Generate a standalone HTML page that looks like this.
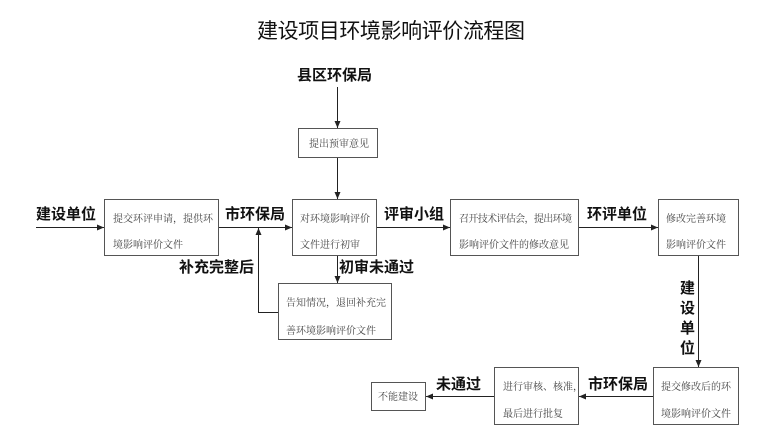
<!DOCTYPE html>
<html><head><meta charset="utf-8"><style>
html,body{margin:0;padding:0;background:#fff}
svg{display:block}
.t{font-family:"Liberation Serif","Noto Serif CJK SC",serif;font-size:10px;fill:#444}
.b{font-family:"Liberation Sans","Noto Sans CJK SC",sans-serif;font-size:15px;font-weight:bold;fill:#111}
</style></head><body>
<svg width="766" height="440" viewBox="0 0 766 440" xmlns="http://www.w3.org/2000/svg">
<defs><marker id="a" markerWidth="8" markerHeight="8" refX="7" refY="4" orient="auto" markerUnits="userSpaceOnUse"><path d="M0,1 L7,4 L0,7 z" fill="#222"/></marker></defs>
<text x="391" y="38" text-anchor="middle" font-family="Liberation Sans,Noto Sans CJK SC,sans-serif" font-size="21" fill="#111" textLength="268">建设项目环境影响评价流程图</text>
<g fill="none" stroke="#555" stroke-width="1">
<rect x="298.5" y="128.5" width="79" height="29"/>
<rect x="104.5" y="199.5" width="114" height="56"/>
<rect x="292.5" y="199.5" width="84" height="56"/>
<rect x="278.5" y="283.5" width="113" height="56"/>
<rect x="450.5" y="199.5" width="128" height="56"/>
<rect x="658.5" y="199.5" width="80" height="56"/>
<rect x="653.5" y="367.5" width="85" height="57"/>
<rect x="494.5" y="367.5" width="84" height="57"/>
<rect x="371.5" y="382.5" width="54" height="28"/>
</g>
<g stroke="#222" stroke-width="1" fill="none" marker-end="url(#a)">
<line x1="337.5" y1="87" x2="337.5" y2="128"/>
<line x1="337.5" y1="158" x2="337.5" y2="199"/>
<line x1="36" y1="227.5" x2="104" y2="227.5"/>
<line x1="219" y1="227.5" x2="292" y2="227.5"/>
<line x1="377" y1="227.5" x2="450" y2="227.5"/>
<line x1="579" y1="227.5" x2="658" y2="227.5"/>
<line x1="337.5" y1="256" x2="337.5" y2="283"/>
<polyline points="278,312.5 258.5,312.5 258.5,228"/>
<line x1="698.5" y1="256" x2="698.5" y2="367"/>
<line x1="653" y1="396.5" x2="579" y2="396.5"/>
<line x1="494" y1="396.5" x2="426" y2="396.5"/>
</g>
<text class="b" x="297" y="80">县区环保局</text>
<text class="t" x="309" y="147">提出预审意见</text>
<text class="b" x="36" y="219">建设单位</text>
<text class="b" x="225" y="219">市环保局</text>
<text class="b" x="384" y="219">评审小组</text>
<text class="b" x="587" y="219">环评单位</text>
<text class="b" x="179" y="272">补充完整后</text>
<text class="b" x="339" y="272">初审未通过</text>
<text class="t" x="113" y="222">提交环评申请，提供环</text>
<text class="t" x="113" y="248">境影响评价文件</text>
<text class="t" x="300" y="222">对环境影响评价</text>
<text class="t" x="300" y="248">文件进行初审</text>
<text class="t" x="286" y="306">告知情况，退回补充完</text>
<text class="t" x="286" y="334">善环境影响评价文件</text>
<text class="t" x="459" y="222" textLength="113">召开技术评估会，提出环境</text>
<text class="t" x="459" y="248">影响评价文件的修改意见</text>
<text class="t" x="666" y="222">修改完善环境</text>
<text class="t" x="666" y="248">影响评价文件</text>
<text class="b" x="680" y="293">建</text>
<text class="b" x="680" y="313">设</text>
<text class="b" x="680" y="333">单</text>
<text class="b" x="680" y="353">位</text>
<text class="t" x="661" y="390">提交修改后的环</text>
<text class="t" x="661" y="417">境影响评价文件</text>
<text class="b" x="588" y="389">市环保局</text>
<text class="t" x="503" y="390">进行审核、核准，</text>
<text class="t" x="503" y="417">最后进行批复</text>
<text class="b" x="436" y="389">未通过</text>
<text class="t" x="378" y="400">不能建设</text>
</svg>
</body></html>
